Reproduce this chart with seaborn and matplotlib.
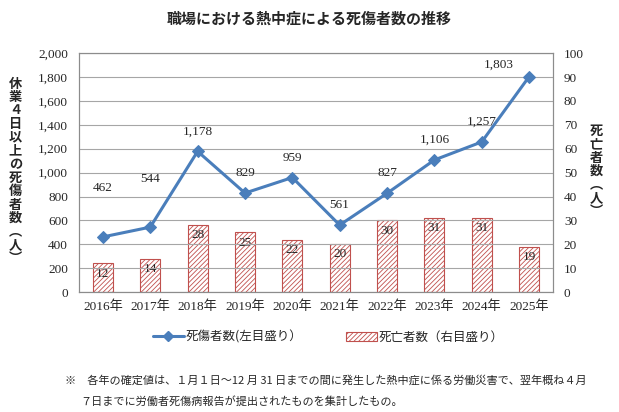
import numpy as np
import pandas as pd
import matplotlib
matplotlib.use('Agg')
import matplotlib.pyplot as plt
import seaborn as sns
from matplotlib.lines import Line2D
from matplotlib.patches import Patch

# データ
years = ['2016年', '2017年', '2018年', '2019年', '2020年',
         '2021年', '2022年', '2023年', '2024年', '2025年']
casualties = [462, 544, 1178, 829, 959, 561, 827, 1106, 1257, 1803]
deaths = [12, 14, 28, 25, 22, 20, 30, 31, 31, 19]

sns.set_style('white')
plt.rcParams['font.family'] = ['Liberation Serif', 'Noto Sans CJK JP', 'DejaVu Sans']
plt.rcParams['hatch.color'] = '#c0504d'
plt.rcParams['hatch.linewidth'] = 0.6

df = pd.DataFrame({'年': years, '死傷者数': casualties, '死亡者数': deaths})
gothic = ['Noto Sans CJK JP', 'DejaVu Sans']
line_c = '#4a7ebb'
bar_c = '#c0504d'

fig = plt.figure(figsize=(6.19, 4.12), dpi=100)
ax = fig.add_axes([0.128, 0.291, 0.765, 0.580])
ax2 = ax.twinx()

# 棒グラフ(右目盛り)
sns.barplot(data=df, x='年', y='死亡者数', ax=ax2, width=0.42,
            color='white', edgecolor=bar_c, linewidth=0.8, hatch='///////')
for i, v in enumerate(deaths):
    ax2.annotate(str(v), (i, v), xytext=(0, -3), textcoords='offset points',
                 ha='center', va='top', fontsize=9.5)

# 折れ線(左目盛り)
ax.set_zorder(ax2.get_zorder() + 1)
ax.patch.set_visible(False)
sns.lineplot(data=df, x='年', y='死傷者数', ax=ax, color=line_c, linewidth=2.2,
             marker='D', markersize=6, markeredgecolor=line_c, sort=False)

# ラベル位置の調整(ポイント単位)
label_off = {0: (0, 31), 1: (0, 30), 9: (-22, 4)}
for i, v in enumerate(casualties):
    dx, dy = label_off.get(i, (0, 10))
    ax.annotate(f'{v:,}', (i, v), xytext=(dx, dy), textcoords='offset points',
                ha='center', va='bottom', fontsize=9.5)

ax.set_ylim(0, 2000)
ax.set_yticks(np.arange(0, 2001, 200))
ax.set_yticklabels([f'{t:,}' for t in range(0, 2001, 200)])
ax2.set_ylim(0, 100)
ax2.set_yticks(np.arange(0, 101, 10))
ax.set_xlim(-0.5, 9.5)
ax.yaxis.grid(True, color='#a6a6a6', linewidth=0.8)
ax.set_axisbelow(True)
for a in (ax, ax2):
    a.set_xlabel('')
    a.set_ylabel('')
    for s in a.spines.values():
        s.set_color('#8c8c8c')
        s.set_linewidth(0.8)
    a.tick_params(length=0, labelsize=9.5, pad=8)
ax.tick_params(axis='x', pad=6)

# 縦書きの軸ラベル
fig.text(0.025, 0.585, '\n'.join('休業４日以上の死傷者数︵人︶'), ha='center', va='center',
         family=gothic, fontsize=9.5, fontweight='bold', linespacing=0.95)
fig.text(0.963, 0.585, '\n'.join('死亡者数︵人︶'), ha='center', va='center',
         family=gothic, fontsize=9.5, fontweight='bold', linespacing=0.95)

fig.text(0.5, 0.955, '職場における熱中症による死傷者数の推移', ha='center', va='center',
         family=gothic, fontsize=10.8, fontweight='bold')

handles = [Line2D([0], [0], color=line_c, linewidth=2.2, marker='D', markersize=5),
           Patch(facecolor='white', edgecolor=bar_c, hatch='///////', linewidth=0.8)]
fig.legend(handles, ['死傷者数(左目盛り）', '死亡者数（右目盛り）'], loc='center',
           bbox_to_anchor=(0.53, 0.182), ncol=2, frameon=False, columnspacing=3.5,
           handlelength=2.5, handletextpad=0.1, prop={'family': gothic, 'size': 9})

fig.text(0.105, 0.078, '※　各年の確定値は、１月１日～12 月 31 日までの間に発生した熱中症に係る労働災害で、翌年概ね４月',
         ha='left', va='center', family=gothic, fontsize=8.0)
fig.text(0.13, 0.027, '７日までに労働者死傷病報告が提出されたものを集計したもの。',
         ha='left', va='center', family=gothic, fontsize=8.0)

fig.savefig('out.png', dpi=100)
